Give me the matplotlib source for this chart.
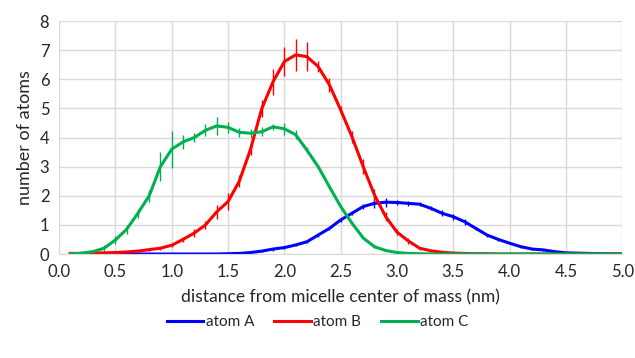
import matplotlib.pyplot as plt
import numpy as np

# distance bins (nm)
dist = [0.1, 0.2, 0.3, 0.4, 0.5, 0.6, 0.7, 0.8, 0.9, 1.0,
        1.1, 1.2, 1.3, 1.4, 1.5, 1.6, 1.7, 1.8, 1.9, 2.0,
        2.1, 2.2, 2.3, 2.4, 2.5, 2.6, 2.7, 2.8, 2.9, 3.0,
        3.1, 3.2, 3.3, 3.4, 3.5, 3.6, 3.7, 3.8, 3.9, 4.0,
        4.1, 4.2, 4.3, 4.4, 4.5, 4.6, 4.7, 4.8, 4.9, 5.0]

atomA = [0.0, 0.0, 0.0, 0.0, 0.0, 0.0, 0.0, 0.0, 0.0, 0.0,
         0.0, 0.0, 0.0, 0.0, 0.01, 0.02, 0.05, 0.1, 0.17, 0.22,
         0.31, 0.42, 0.65, 0.88, 1.17, 1.4, 1.63, 1.74, 1.78, 1.77,
         1.74, 1.71, 1.57, 1.4, 1.28, 1.11, 0.88, 0.65, 0.5, 0.37,
         0.25, 0.17, 0.14, 0.08, 0.04, 0.03, 0.02, 0.01, 0.01, 0.0]
errA = [0.02, 0.02, 0.02, 0.02, 0.02, 0.02, 0.02, 0.02, 0.02, 0.02,
        0.02, 0.02, 0.02, 0.02, 0.02, 0.03, 0.03, 0.04, 0.05, 0.05,
        0.05, 0.05, 0.06, 0.06, 0.07, 0.07, 0.08, 0.15, 0.15, 0.08,
        0.08, 0.07, 0.07, 0.1, 0.1, 0.1, 0.06, 0.05, 0.05, 0.04,
        0.04, 0.04, 0.04, 0.03, 0.03, 0.02, 0.02, 0.02, 0.02, 0.02]

atomB = [0.02, 0.02, 0.03, 0.04, 0.05, 0.07, 0.1, 0.15, 0.2, 0.3,
         0.5, 0.72, 1.0, 1.45, 1.8, 2.5, 3.6, 5.0, 5.92, 6.61,
         6.84, 6.78, 6.44, 5.81, 4.95, 4.03, 3.0, 2.03, 1.28, 0.75,
         0.45, 0.2, 0.11, 0.06, 0.03, 0.02, 0.01, 0.01, 0.0, 0.0,
         0.0, 0.0, 0.0, 0.0, 0.0, 0.0, 0.0, 0.0, 0.0, 0.0]
errB = [0.03, 0.03, 0.03, 0.03, 0.03, 0.03, 0.03, 0.05, 0.05, 0.07,
        0.1, 0.15, 0.15, 0.25, 0.3, 0.2, 0.2, 0.3, 0.45, 0.5,
        0.55, 0.5, 0.2, 0.25, 0.15, 0.2, 0.25, 0.2, 0.15, 0.1,
        0.1, 0.05, 0.03, 0.03, 0.02, 0.02, 0.02, 0.02, 0.02, 0.02,
        0.02, 0.02, 0.02, 0.02, 0.02, 0.02, 0.02, 0.02, 0.02, 0.02]

atomC = [0.0, 0.03, 0.08, 0.2, 0.48, 0.85, 1.4, 2.0, 3.0, 3.6,
         3.85, 4.0, 4.25, 4.4, 4.35, 4.18, 4.15, 4.2, 4.37, 4.3,
         4.1, 3.57, 3.0, 2.31, 1.63, 1.06, 0.55, 0.25, 0.12, 0.05,
         0.02, 0.01, 0.0, 0.0, 0.0, 0.0, 0.0, 0.0, 0.0, 0.0,
         0.0, 0.0, 0.0, 0.0, 0.0, 0.0, 0.0, 0.0, 0.0, 0.0]
errC = [0.05, 0.05, 0.05, 0.1, 0.15, 0.15, 0.15, 0.2, 0.5, 0.63,
        0.25, 0.15, 0.2, 0.3, 0.2, 0.15, 0.15, 0.15, 0.1, 0.2,
        0.15, 0.1, 0.05, 0.05, 0.05, 0.05, 0.05, 0.05, 0.03, 0.02,
        0.02, 0.02, 0.02, 0.02, 0.02, 0.02, 0.02, 0.02, 0.02, 0.02,
        0.02, 0.02, 0.02, 0.02, 0.02, 0.02, 0.02, 0.02, 0.02, 0.02]

plt.rcParams['font.family'] = ['Lato', 'DejaVu Sans']

fig = plt.figure(figsize=(6.35, 3.58), dpi=100)
ax = fig.add_axes([0.093, 0.2905, 0.887, 0.6505])

series = [("atom A", atomA, errA, "#0000FF"),
          ("atom B", atomB, errB, "#FF0000"),
          ("atom C", atomC, errC, "#00B050")]
for name, vals, errs, col in series:
    ax.errorbar(dist, vals, yerr=errs, color=col, lw=2.2, elinewidth=1.0,
                capsize=0, label=name)

ax.set_xlim(0, 5.0)
ax.set_ylim(0, 8)
ax.set_xticks(np.arange(0, 5.01, 0.5))
ax.set_xticklabels(["%.1f" % v for v in np.arange(0, 5.01, 0.5)])
ax.set_yticks(range(0, 9))
ax.grid(True, color="#D9D9D9", lw=1)
ax.set_axisbelow(True)
for s in ["top", "right", "left"]:
    ax.spines[s].set_visible(False)
ax.spines["bottom"].set_color("#D9D9D9")
ax.tick_params(length=0, labelsize=12, colors="#262626", pad=7)
ax.set_xlabel("distance from micelle center of mass (nm)", fontsize=12.6, color="#262626", labelpad=7)
ax.set_ylabel("number of atoms", fontsize=13, color="#262626", labelpad=5)

handles, labels = ax.get_legend_handles_labels()
handles = [h[0] for h in handles]
fig.legend(handles, labels, loc="center", bbox_to_anchor=(0.5, 0.1), ncol=3,
           frameon=False, fontsize=11, handlelength=2.4, handletextpad=0.15,
           columnspacing=1.3, labelcolor="#262626")

fig.savefig("out.png", dpi=100)
